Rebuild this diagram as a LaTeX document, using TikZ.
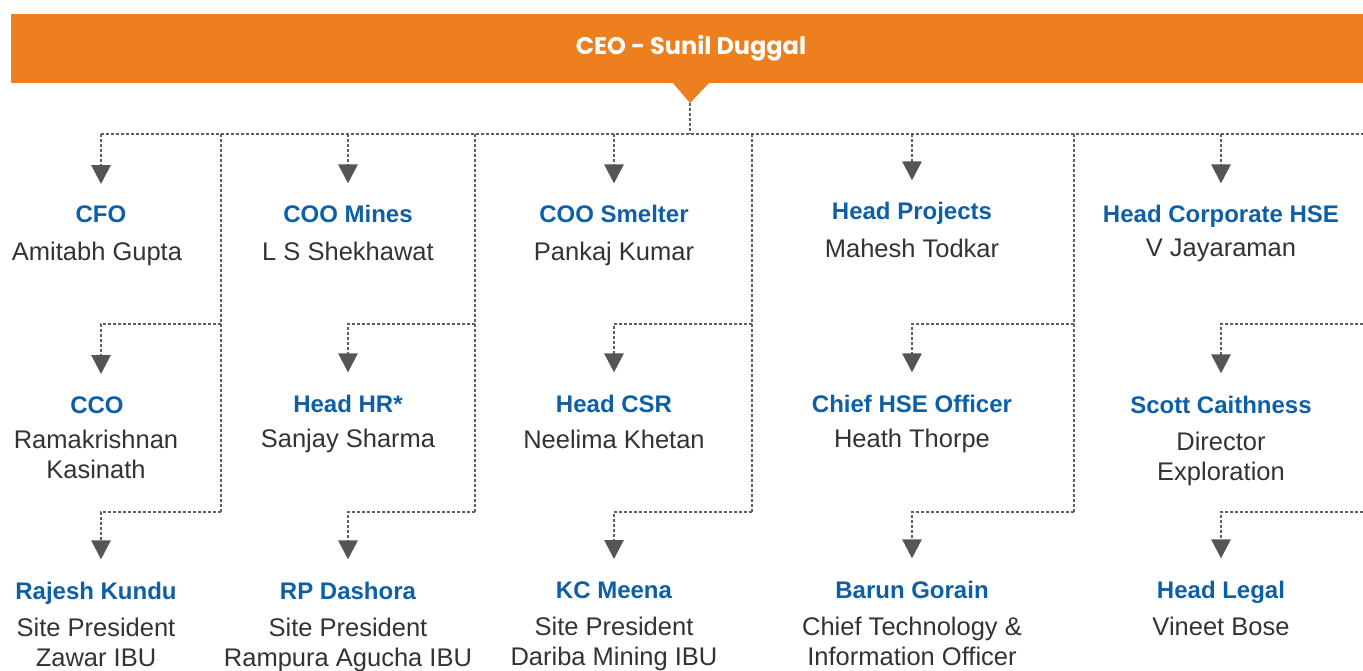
\documentclass[tikz,border=0pt]{standalone}
\usepackage{fontspec}
\setmainfont{Liberation Sans}
\newfontfamily\ceofont{Poppins}
\usetikzlibrary{arrows.meta}
\definecolor{barorange}{HTML}{EE7F1E}
\definecolor{titleblue}{HTML}{0D5FA6}
\definecolor{nametext}{HTML}{333333}
\definecolor{linegray}{HTML}{606060}
\definecolor{tipgray}{HTML}{555555}
\tikzset{
  ttl/.style={anchor=base, inner sep=0pt, text=titleblue, font=\fontsize{24}{29}\selectfont\bfseries},
  nm/.style={anchor=north, inner sep=0pt, align=center, text=nametext, font=\fontsize{25.5}{30}\selectfont},
  dotline/.style={draw=linegray, line width=2.8pt, dash pattern=on 2.6pt off 2.4pt},
  arr/.style={dotline, -{Triangle[width=19pt,length=19pt,fill=tipgray,color=tipgray]}, shorten >=22pt},
}
\begin{document}
\begin{tikzpicture}[x=1pt,y=-1pt]
\useasboundingbox (0,0) rectangle (1363,671);
% CEO bar
\fill[barorange] (11,14) rectangle (1363,83);
\fill[barorange] (672,82) -- (710,82) -- (690,103) -- cycle;
\node[inner sep=0pt, text=white, font=\ceofont\fontsize{24}{28}\selectfont\bfseries] (ceo) at (691,48) {CEO - Sunil Duggal};
\coordinate (tip) at (690,103);
% coordinates
\coordinate (bus) at (690,134);
\coordinate (busL) at (101,134);
\coordinate (busR) at (1363,134);
\foreach \n/\x in {1/221,2/475,3/752,4/1074}{
  \coordinate (va\n) at (\x,134);
  \coordinate (vb\n) at (\x,324);
  \coordinate (vc\n) at (\x,512);
}
\coordinate (vb5) at (1363,324);
\coordinate (vc5) at (1363,512);
% row 1
\node[ttl] (t11) at (101,223) {CFO};
\node[nm]  (n11) at (97,242) {Amitabh Gupta};
\node[ttl] (t12) at (348,223) {COO Mines};
\node[nm]  (n12) at (348,242) {L S Shekhawat};
\node[ttl] (t13) at (614,223) {COO Smelter};
\node[nm]  (n13) at (614,242) {Pankaj Kumar};
\node[ttl] (t14) at (912,220) {Head Projects};
\node[nm]  (n14) at (912,239) {Mahesh Todkar};
\node[ttl] (t15) at (1221,223) {Head Corporate HSE};
\node[nm]  (n15) at (1221,239) {V Jayaraman};
% row 2
\node[ttl] (t21) at (97,413) {CCO};
\node[nm]  (n21) at (96,430) {Ramakrishnan\\Kasinath};
\node[ttl] (t22) at (348,412) {Head HR*};
\node[nm]  (n22) at (348,429) {Sanjay Sharma};
\node[ttl] (t23) at (614,412) {Head CSR};
\node[nm]  (n23) at (614,430) {Neelima Khetan};
\node[ttl] (t24) at (912,412) {Chief HSE Officer};
\node[nm]  (n24) at (912,429) {Heath Thorpe};
\node[ttl] (t25) at (1221,413) {Scott Caithness};
\node[nm]  (n25) at (1221,432) {Director\\Exploration};
% row 3
\node[ttl] (t31) at (96,599) {Rajesh Kundu};
\node[nm]  (n31) at (96,618) {Site President\\Zawar IBU};
\node[ttl] (t32) at (348,599) {RP Dashora};
\node[nm]  (n32) at (348,618) {Site President\\Rampura Agucha IBU};
\node[ttl] (t33) at (614,598) {KC Meena};
\node[nm]  (n33) at (614,617) {Site President\\Dariba Mining IBU};
\node[ttl] (t34) at (912,598) {Barun Gorain};
\node[nm]  (n34) at (912,617) {Chief Technology \&\\Information Officer};
\node[ttl] (t35) at (1221,598) {Head Legal};
\node[nm]  (n35) at (1221,617) {Vineet Bose};
% connectors
\draw[dotline] (tip) -- (bus);
\draw[dotline] (busL) -- (busR);
\foreach \n in {1,2,3,4}{
  \draw[dotline] (va\n) -- (vc\n);
}
\draw[arr] (busL) -- (busL |- t11.north);
\draw[arr] (busL -| t12) -- (t12.north);
\draw[arr] (busL -| t13) -- (t13.north);
\draw[arr] (busL -| t14) -- (t14.north);
\draw[arr] (busL -| t15) -- (t15.north);
\draw[arr] (vb1) -| (t21.north -| t11);
\draw[arr] (vb2) -| (t22.north);
\draw[arr] (vb3) -| (t23.north);
\draw[arr] (vb4) -| (t24.north);
\draw[arr] (vb5) -| (t25.north);
\draw[arr] (vc1) -| (t31.north -| t11);
\draw[arr] (vc2) -| (t32.north);
\draw[arr] (vc3) -| (t33.north);
\draw[arr] (vc4) -| (t34.north);
\draw[arr] (vc5) -| (t35.north);
\end{tikzpicture}
\end{document}
